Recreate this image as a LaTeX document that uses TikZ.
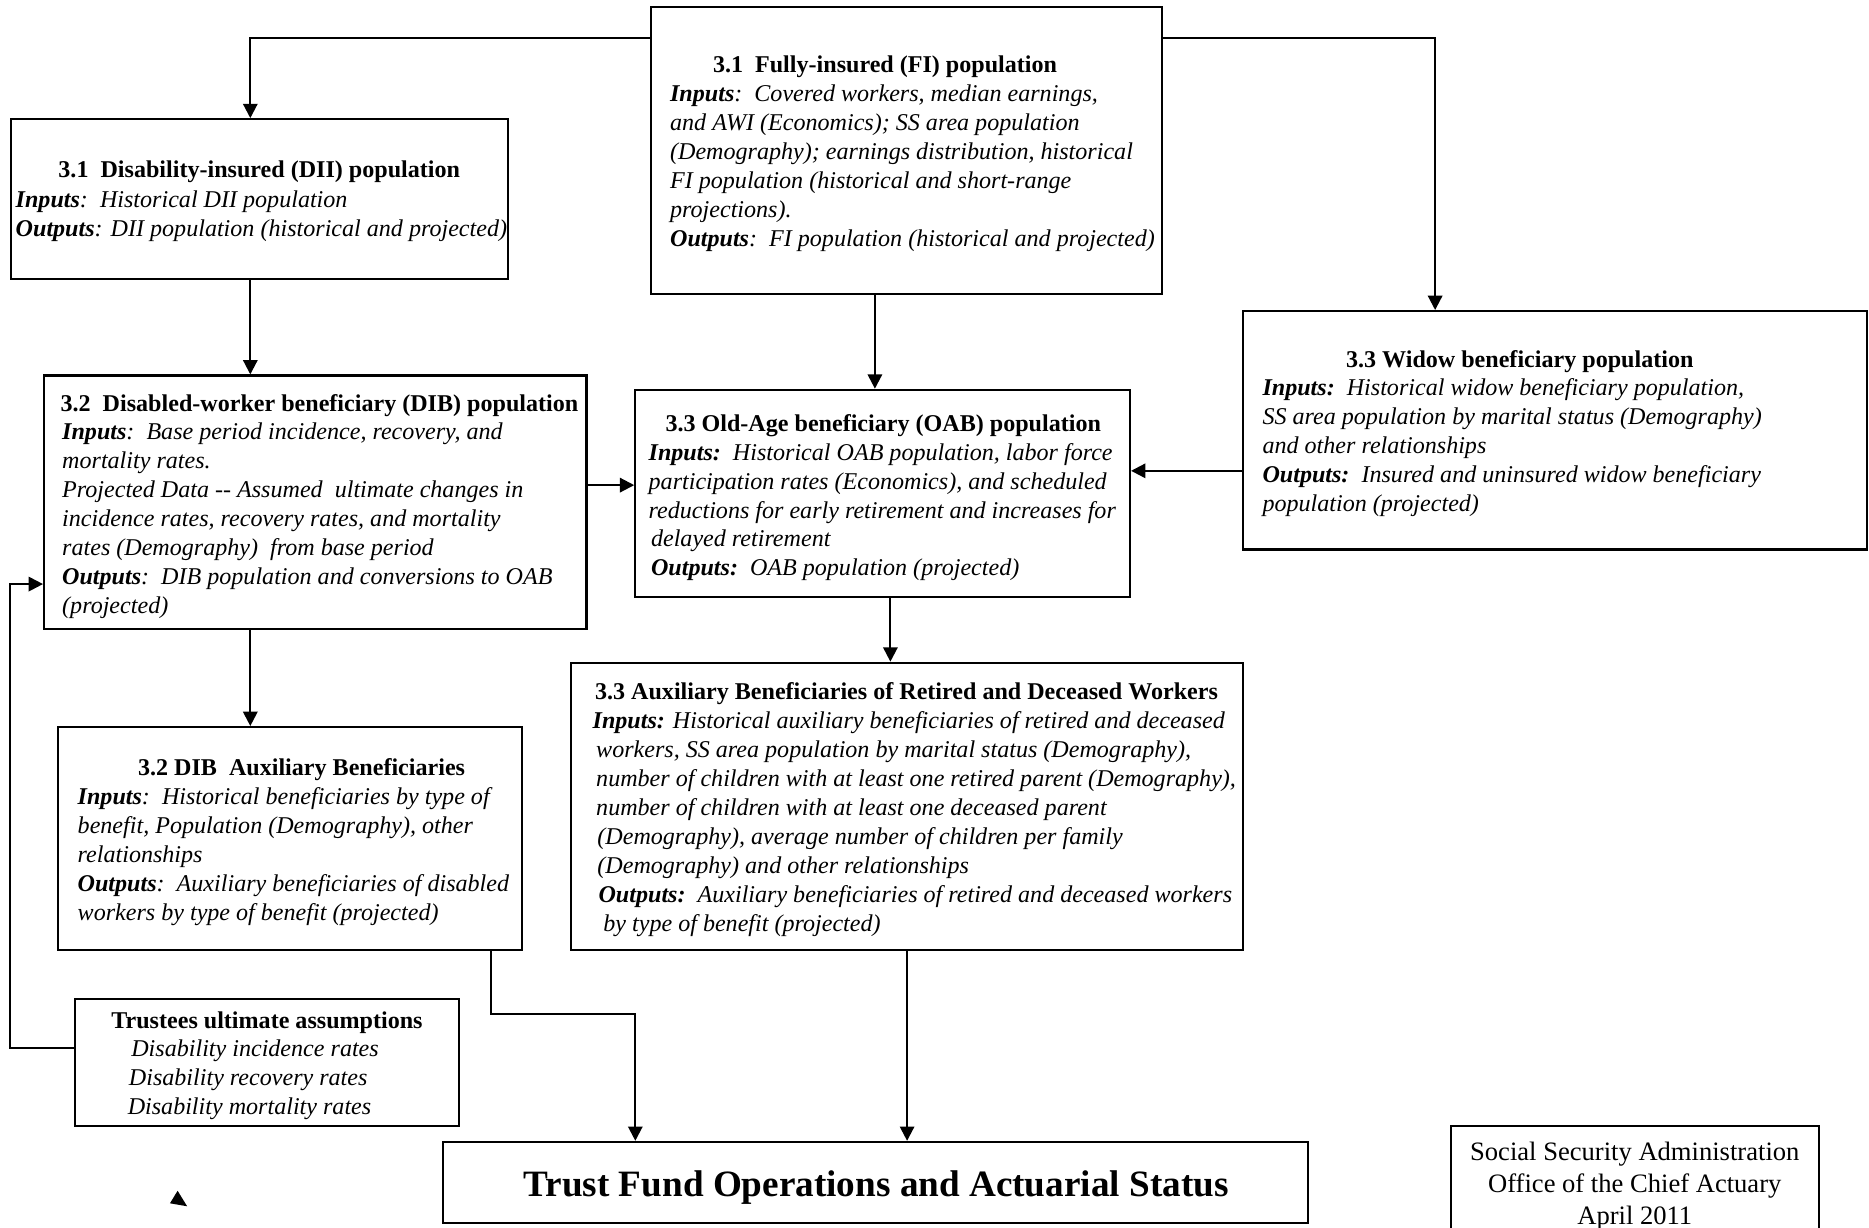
\documentclass[tikz,border=0pt]{standalone}
\usepackage{fontspec}
\setmainfont{Liberation Serif}
\usetikzlibrary{arrows.meta}
\newcommand\myin{\textbf{Inputs}}
\newcommand\myout{\textbf{Outputs}}
\begin{document}
\begin{tikzpicture}[x=1pt,y=-1pt,
 box/.style={draw, line width=1.8pt, inner sep=0pt},
 ttl/.style={anchor=base, font=\fontsize{20.2}{24.3}\selectfont\bfseries, inner sep=0pt},
 bdy/.style={anchor=base west, align=left, font=\fontsize{20.2}{24.3}\selectfont\itshape, inner sep=0pt},
 arr/.style={line width=1.8pt, -{Triangle[length=12pt,width=12pt]}},
]
\useasboundingbox (0,0) rectangle (1568,1030.2);
% boxes
\node[box, minimum width=429pt, minimum height=241pt] (fi) at (760.5,126.5) {};
\node[box, minimum width=417pt, minimum height=134pt] (dii) at (217.5,167) {};
\node[box, minimum width=455pt, minimum height=213pt] (dib) at (264.5,421.5) {};
\node[box, minimum width=415pt, minimum height=174pt] (oab) at (740.5,414) {};
\node[box, minimum width=523pt, minimum height=200pt] (wid) at (1304.5,361) {};
\node[box, minimum width=564pt, minimum height=241pt] (aux) at (761,676.5) {};
\node[box, minimum width=389pt, minimum height=187pt] (diba) at (243.5,703.5) {};
\node[box, minimum width=322pt, minimum height=107pt] (tru) at (224,891.5) {};
\node[box, minimum width=725pt, minimum height=68pt] (tf) at (734.5,992) {};
\node[box, minimum width=309pt, minimum height=100pt] (ssa) at (1371.5,995) {};

% texts (multi-line nodes: base = baseline of last line)
\node[ttl] (fit) at (742.5,61) {3.1\ \ Fully-insured (FI) population};
\node[bdy] (fib) at (562,206.5) {\myin:\ \ Covered workers, median earnings,\\ and AWI (Economics); SS area population\\ (Demography); earnings distribution, historical\\ FI population (historical and short-range\\ projections).\\ \myout:\ \ FI population (historical and projected)};

\node[ttl] (diit) at (217.5,149) {3.1\ \ Disability-insured (DII) population};
\node[bdy] (diib) at (13,198.3) {\myin:\ \ Historical DII population\\ \myout: DII population (historical and projected)};

\node[ttl] (dibt) at (268,345) {3.2\ \ Disabled-worker beneficiary (DIB) population};
\node[bdy] (dibb) at (52,514.8) {\myin:\ \ Base period incidence, recovery, and\\ mortality rates.\\ Projected Data -{}- Assumed\ \ ultimate changes in\\ incidence rates, recovery rates, and mortality\\ rates (Demography)\ \ from base period\\ \myout:\ \ DIB population and conversions to OAB\\ (projected)};

\node[ttl] (oabt) at (741,362) {3.3 Old-Age beneficiary (OAB) population};
\node[bdy] (oabb) at (544,483.2) {\textbf{Inputs:}\ \ Historical OAB population, labor force\\ participation rates (Economics), and scheduled\\ reductions for early retirement and increases for\\ \hspace{2pt}delayed retirement\\ \hspace{2pt}\textbf{Outputs:}\ \ OAB population (projected)};

\node[ttl] (widt) at (1275,308) {3.3 Widow beneficiary population};
\node[bdy] (widb) at (1059,429.2) {\textbf{Inputs:}\ \ Historical widow beneficiary population,\\ SS area population by marital status (Demography)\\ and other relationships\\ \textbf{Outputs:}\ \ Insured and uninsured widow beneficiary\\ population (projected)};

\node[ttl] (auxt) at (760.5,587) {3.3 Auxiliary Beneficiaries of Retired and Deceased Workers};
\node[bdy] (auxb) at (497,781.1) {\textbf{Inputs:} Historical auxiliary beneficiaries of retired and deceased\\ \hspace{3pt}workers, SS area population by marital status (Demography),\\ \hspace{3pt}number of children with at least one retired parent (Demography),\\ \hspace{3pt}number of children with at least one deceased parent\\ \hspace{4pt}(Demography), average number of children per family\\ \hspace{4pt}(Demography) and other relationships\\ \hspace{5pt}\textbf{Outputs:}\ \ Auxiliary beneficiaries of retired and deceased workers\\ \hspace{9pt}by type of benefit (projected)};

\node[ttl] (dibat) at (253,651) {3.2 DIB\ \ Auxiliary Beneficiaries};
\node[bdy] (dibab) at (65,772.2) {\myin:\ \ Historical beneficiaries by type of\\ benefit, Population (Demography), other\\ relationships\\ \myout:\ \ Auxiliary beneficiaries of disabled\\ workers by type of benefit (projected)};

\node[ttl] (trut) at (224,863) {Trustees ultimate assumptions};
\node[bdy] (trub) at (107,934.6) {\hspace{3pt}Disability incidence rates\\ \hspace{1pt}Disability recovery rates\\ Disability mortality rates};

\node[anchor=base, inner sep=0pt, font=\fontsize{31.2}{35}\selectfont\bfseries] (tft) at (735,1004) {Trust Fund Operations and Actuarial Status};

\node[anchor=base, align=center, inner sep=0pt, font=\fontsize{22.3}{26.7}\selectfont] (ssat) at (1371.5,1027.4) {Social Security Administration\\ Office of the Chief Actuary\\ April 2011};

% connectors
\draw[arr] ([yshift=-27pt]fi.north west) -| ([xshift=-7.5pt]dii.north);
\draw[arr] ([yshift=-27pt]fi.north east) -| ([xshift=-100.5pt]wid.north);
\draw[arr] ([xshift=-7.5pt]dii.south) -- ([xshift=-7.5pt]dii.south |- dib.north);
\draw[arr] ([yshift=14.5pt]dib.east) -- ([yshift=14.5pt]dib.east -| oab.west);
\draw[arr] ([xshift=-26.5pt]fi.south) -- ([xshift=-26.5pt]fi.south |- oab.north);
\draw[arr] ([yshift=-34pt]wid.west) -- ([yshift=-34pt]wid.west -| oab.east);
\draw[arr] ([xshift=6.5pt]oab.south) -- ([xshift=6.5pt]oab.south |- aux.north);
\draw[arr] ([xshift=-54.5pt]dib.south) -- ([xshift=-54.5pt]dib.south |- diba.north);
\draw[arr] (aux.south) -- (aux.south |- tf.north);
\coordinate (k1) at (533,851);
\draw[arr] ([xshift=168.5pt]diba.south) |- (k1) -- (k1 |- tf.north);
\draw[arr] ([yshift=12.5pt]tru.west) -- ++(-54,0) |- ([yshift=-68.5pt]dib.west);

% stray arrowhead
\fill (149,999) -- (157,1012) -- (142.6,1009.5) -- cycle;
\end{tikzpicture}
\end{document}
